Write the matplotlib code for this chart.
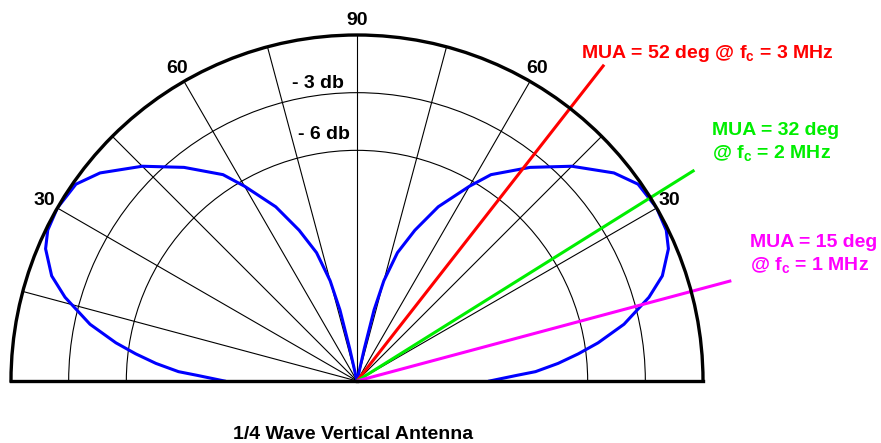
import numpy as np
import matplotlib.pyplot as plt

# radiation pattern of the 1/4 wave vertical (elevation in deg, gain in dB)
elev_deg = [0, 2, 3, 5, 7, 9, 12, 16, 19, 23, 26, 30, 35, 39, 45, 51,
            57, 60, 65, 69, 72.5, 75, 76.5, 77.3, 78]
gain_db = [-11.1, -9.7, -8.7, -7.5, -6.4, -5.3, -3.8, -2.2, -1.2, -0.4, -0.1,
           0.0, -0.15, -0.8, -2.2, -3.7, -5.2, -6.3, -8.0, -9.6, -11.0,
           -12.6, -14.2, -16.3, -18.0]

# plot scale
db_min = -18
ring_db = [-6, -3]
ring_labels = ['- 6 db', '- 3 db']
spoke_deg = list(range(15, 180, 15))
spoke_labels = ['', '30', '', '60', '', '90', '', '60', '', '30', '']

# maximum usable angle per frequency
mua_deg = [52, 32, 15]
mua_labels = ['MUA = 52 deg @ f$_c$ = 3 MHz',
              'MUA = 32 deg\n@ f$_c$ = 2 MHz',
              'MUA = 15 deg\n@ f$_c$ = 1 MHz']
mua_colors = ['#ff0000', '#00ee00', '#ff00ff']
mua_len = [1.16, 1.15, 1.12]          # line length relative to outer ring
mua_text_xy = [(581, 58), (712, 158), (750, 270)]   # pixel pos (left, baseline)

plt.rcParams['font.family'] = ['Liberation Sans', 'DejaVu Sans']
plt.rcParams['font.weight'] = 'bold'
plt.rcParams['mathtext.fontset'] = 'custom'
plt.rcParams['mathtext.rm'] = 'Liberation Sans:bold'
plt.rcParams['mathtext.it'] = 'Liberation Sans:bold'
plt.rcParams['mathtext.bf'] = 'Liberation Sans:bold'

W, H = 881, 443
cx, cy, R = 357, 381, 346   # centre and outer radius in pixels
fig = plt.figure(figsize=(W / 100, H / 100), dpi=100)
# half-polar wedge is fitted into a square box, centred vertically
ax = fig.add_axes([(cx - R) / W, (H - (cy - R / 2) - R) / H, 2 * R / W, 2 * R / H],
                  projection='polar')
ax.set_thetamin(0)
ax.set_thetamax(180)
ax.set_ylim(db_min, 0)
ax.set_axisbelow(True)

ax.set_thetagrids(spoke_deg, spoke_labels)
ax.set_rgrids(ring_db, labels=['', ''])
ax.grid(True, color='black', linewidth=0.8)
ax.tick_params(axis='x', labelsize=14, pad=0)
for name in ['polar', 'start', 'end']:
    ax.spines[name].set_linewidth(2.4)
ax.spines['inner'].set_visible(False)

# ring labels just left of the 90 deg spoke
for db, lab, off in zip(ring_db, ring_labels, [(-7, 11), (-13, 5)]):
    ax.annotate(lab, xy=(np.pi / 2, db), xytext=off, textcoords='offset pixels',
                ha='right', va='baseline', fontsize=14)

# pattern: right lobe and mirrored left lobe
el = np.radians(elev_deg)
ax.plot(el, gain_db, color='#0000ff', lw=2.2)
ax.plot(np.pi - el, gain_db, color='#0000ff', lw=2.2)

# MUA rays
for ang, col, ln in zip(mua_deg, mua_colors, mua_len):
    t = np.radians(ang)
    ax.plot([t, t], [db_min, db_min + ln * (0 - db_min)], color=col, lw=2.2,
            clip_on=False, solid_capstyle='butt')

for lab, col, (px, py) in zip(mua_labels, mua_colors, mua_text_xy):
    fig.text(px / W, 1 - py / H, lab, color=col, fontsize=14,
             ha='left', va='baseline', linespacing=1.25)

fig.text(353 / W, 1 - 439 / H, '1/4 Wave Vertical Antenna', fontsize=14,
         ha='center', va='baseline')

fig.savefig('out.png', dpi=100, facecolor='white')
